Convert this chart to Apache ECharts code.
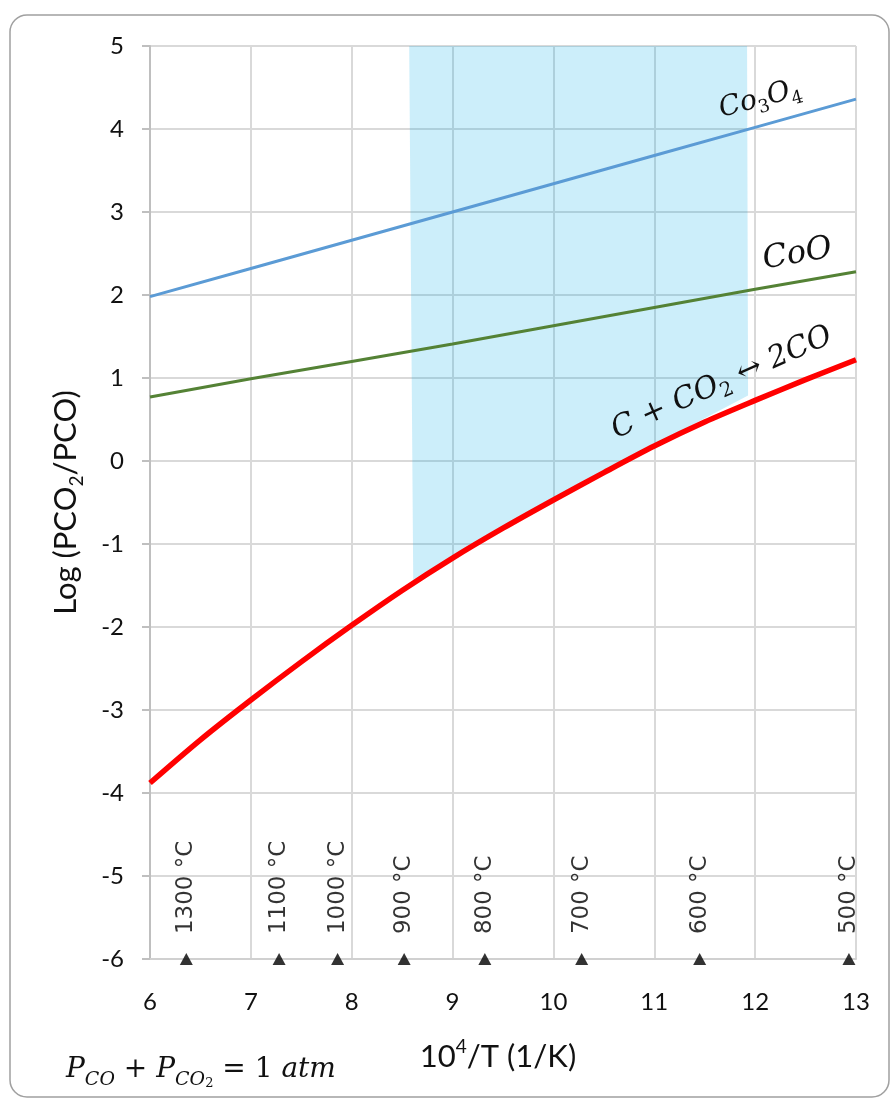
<!DOCTYPE html>
<html><head><meta charset="utf-8">
<script src="https://cdn.jsdelivr.net/npm/echarts@6/dist/echarts.min.js"></script>
<style>html,body{margin:0;padding:0;background:#fff}#c{width:891px;height:1100px}</style>
</head><body><div id="c"></div>
<script>
// ---- data ----
const xTicks = [6, 7, 8, 9, 10, 11, 12, 13];
const co3o4Y = [1.98, 2.32, 2.66, 3.00, 3.34, 3.68, 4.02, 4.36];
const cooY = [0.77, 0.99, 1.20, 1.41, 1.63, 1.85, 2.07, 2.28];
const boudX = [6, 6.5, 7, 7.5, 8, 8.5, 9, 9.5, 10, 10.5, 11, 11.5, 12, 12.5, 13];
const boudY = [-3.88, -3.36, -2.88, -2.42, -1.98, -1.56, -1.17, -0.81, -0.47, -0.14, 0.18, 0.47, 0.73, 0.98, 1.22];
const tempLabels = ['1300 °C', '1100 °C', '1000 °C', '900 °C', '800 °C', '700 °C', '600 °C', '500 °C'];
const tempX = [6.36, 7.28, 7.86, 8.52, 9.32, 10.28, 11.45, 12.93];
const tempLabelY = -5.7;
const tempMarkY = -6;
const shadeUpper = [[8.57, 5], [11.92, 5], [11.93, 0.79], [11.35, 0.42]];
const shadeLowerEnd = [8.61, -1.45];
const labelCo3O4 = [12.05, 4.36];
const labelCoO = [12.42, 2.49];
const labelBoud = [11.67, 0.94];

// ---- build ----
const co3o4Data = xTicks.map((x, i) => [x, co3o4Y[i]]);
const cooData = xTicks.map((x, i) => [x, cooY[i]]);
const boudData = boudX.map((x, i) => [x, boudY[i]]);
const shadePoly = shadeUpper.concat(
  boudData.filter(p => p[0] > shadeLowerEnd[0] && p[0] < shadeUpper[3][0]).reverse(),
  [shadeLowerEnd]
);
const tempLabelData = tempX.map((x, i) => [x, tempLabelY, tempLabels[i]]);
const tempMarkData = tempX.map(x => [x, tempMarkY]);

const FONT = 'Lato';
const chart = echarts.init(document.getElementById('c'), null, {renderer: 'canvas'});
const option = {
  animation: false,
  backgroundColor: '#ffffff',
  grid: {left: 150, right: 35, top: 46, bottom: 141, containLabel: false},
  xAxis: {
    type: 'value', min: 6, max: 13, interval: 1,
    axisLine: {show: true, onZero: false, lineStyle: {color: '#d0d0d0', width: 2}},
    axisTick: {show: false},
    splitLine: {show: true, lineStyle: {color: '#d9d9d9', width: 2}},
    axisLabel: {fontFamily: FONT, fontSize: 24, color: '#111', margin: 31},
    name: '{a|10}{s|4}{a|/T (1/K)}',
    nameLocation: 'middle', nameGap: 78,
    nameTextStyle: {
      padding: [0, 10, 0, 0],
      rich: {
        a: {fontFamily: FONT, fontSize: 31, color: '#111', lineHeight: 40},
        s: {fontFamily: FONT, fontSize: 19, color: '#111', lineHeight: 24, verticalAlign: 'top'}
      }
    }
  },
  yAxis: {
    type: 'value', min: -6, max: 5, interval: 1,
    axisLine: {show: true, onZero: false, lineStyle: {color: '#bfbfbf', width: 2}},
    axisTick: {show: true, length: 8, lineStyle: {color: '#bfbfbf', width: 2}},
    splitLine: {show: true, lineStyle: {color: '#d9d9d9', width: 2}},
    axisLabel: {fontFamily: FONT, fontSize: 24, color: '#111', margin: 26},
    name: '{a|Log (PCO}{s|2}{a|/PCO)}',
    nameLocation: 'middle', nameGap: 64, nameRotate: 90,
    nameTextStyle: {
      rich: {
        a: {fontFamily: FONT, fontSize: 31, color: '#111', lineHeight: 40},
        s: {fontFamily: FONT, fontSize: 19, color: '#111', lineHeight: 22, verticalAlign: 'bottom'}
      }
    }
  },
  series: [
    {
      type: 'custom', z: 1, silent: true,
      data: [[shadePoly[0][0], shadePoly[0][1]]],
      encode: {x: 0, y: 1},
      renderItem: function (params, api) {
        const pts = shadePoly.map(p => api.coord(p));
        return {type: 'polygon', shape: {points: pts}, style: {fill: 'rgba(0,172,230,0.2)'}};
      }
    },
    {type: 'line', data: co3o4Data, symbol: 'none', z: 3,
     lineStyle: {color: '#5b9bd5', width: 3}},
    {type: 'line', data: cooData, symbol: 'none', z: 3,
     lineStyle: {color: '#548235', width: 3}},
    {type: 'line', data: boudData, symbol: 'none', smooth: 0.3, z: 4,
     lineStyle: {color: '#ff0000', width: 5.5}},
    {type: 'scatter', data: tempMarkData, symbol: 'triangle', symbolSize: [13, 12],
     itemStyle: {color: '#000'}, clip: false, z: 5, silent: true},
    {type: 'scatter', data: tempLabelData, symbolSize: 0, clip: false, z: 5, silent: true,
     label: {show: true, position: 'inside', rotate: 90, align: 'left', verticalAlign: 'middle',
       formatter: p => p.value[2], fontFamily: 'DejaVu Sans', fontSize: 23, color: '#000'}}
  ]
};
chart.setOption(option);

const P = (c) => chart.convertToPixel({gridIndex: 0}, c);
const deg = Math.PI / 180;
const mathFont = 'DejaVu Serif';
const p1 = P(labelCo3O4), p2 = P(labelCoO), p3 = P(labelBoud);
chart.setOption({
  graphic: [
    {type: 'rect', z: 100, silent: true,
     shape: {x: 10, y: 15, width: 879, height: 1082, r: 17},
     style: {fill: 'none', stroke: '#a0a0a0', lineWidth: 1.5}},
    {type: 'text', x: p1[0], y: p1[1], rotation: 15 * deg, z: 100,
     style: {text: '{a|Co}{s|3}{a|O}{s|4}', align: 'center', verticalAlign: 'middle',
       rich: {a: {fontFamily: mathFont, fontStyle: 'italic', fontSize: 28, fill: '#111', lineHeight: 36},
              s: {fontFamily: mathFont, fontSize: 18, fill: '#111', lineHeight: 20, verticalAlign: 'bottom'}}}},
    {type: 'text', x: p2[0], y: p2[1], rotation: 10 * deg, z: 100,
     style: {text: 'CoO', align: 'center', verticalAlign: 'middle',
       fontFamily: mathFont, fontStyle: 'italic', fontSize: 32, fill: '#111'}},
    {type: 'text', x: p3[0], y: p3[1], rotation: 24 * deg, z: 100,
     style: {text: '{a|C + CO}{s|2}{a| ↔ 2CO}', align: 'center', verticalAlign: 'middle',
       rich: {a: {fontFamily: mathFont, fontStyle: 'italic', fontSize: 30, fill: '#111', lineHeight: 38},
              s: {fontFamily: mathFont, fontSize: 20, fill: '#111', lineHeight: 20, verticalAlign: 'bottom'}}}},
    {type: 'text', x: 66, y: 1070, z: 100,
     style: {text: '{i|P}{s|CO}{t| + }{i|P}{s|CO}{ss|2}{t| = 1 }{i|atm}', align: 'left', verticalAlign: 'middle',
       rich: {i: {fontFamily: mathFont, fontStyle: 'italic', fontSize: 28, fill: '#111', lineHeight: 40},
              t: {fontFamily: mathFont, fontSize: 28, fill: '#111', lineHeight: 40},
              s: {fontFamily: mathFont, fontStyle: 'italic', fontSize: 19, fill: '#111', lineHeight: 22, verticalAlign: 'bottom'},
              ss: {fontFamily: mathFont, fontSize: 13, fill: '#111', lineHeight: 10, verticalAlign: 'bottom'}}}}
  ]
});
</script></body></html>
